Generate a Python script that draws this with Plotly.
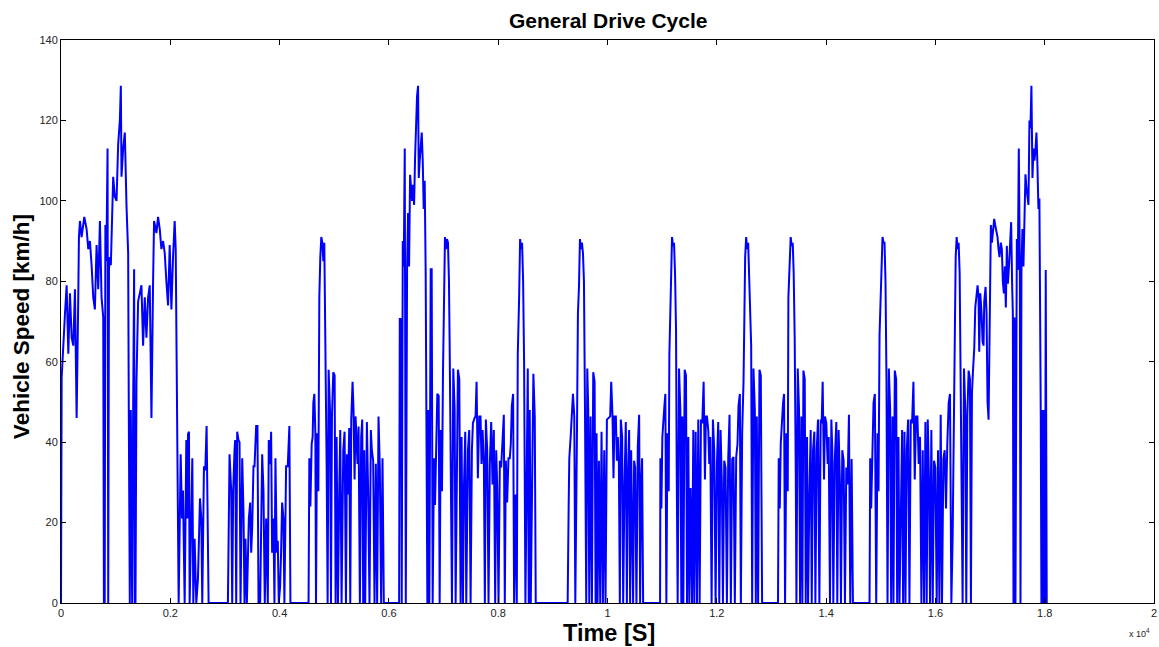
import plotly.graph_objects as go

# (time [s], speed [km/h]) samples, per section
seg_a = [(0,0),(5,48),(12,56),(73,72),(103,79),(134,62),(164,77),(195,66),(225,64),(255,78),(286,46),
         (316,76),(328,91),(347,95),(377,91),(426,96),(468,93),(499,88),(529,90),(560,84),(590,76),
         (620,73),(651,89),(681,78),(712,95),(742,76),(773,71),(785,0),(800,0),(812,94),(830,85),
         (852,113),(864,0),(878,83),(893,86),(912,84),(937,98),(955,106),(985,101),(1016,100),
         (1046,114),(1077,120),(1095,128.6),(1107,106),(1137,113),(1168,117),(1198,99),(1229,87),
         (1241,46),(1259,0),(1277,48),(1302,0),(1320,48),(1338,83),(1350,0),(1363,0),(1381,55),
         (1411,75),(1442,77),(1472,79),(1502,64),(1533,76),(1563,66),(1594,76),(1624,79),(1655,46),
         (1685,80),(1703,95),(1746,92),(1776,96),(1807,93),(1837,88),(1868,90),(1898,87),(1928,80),
         (1959,74),(1989,89),(2020,73),(2050,86),(2080,95),(2099,88),(2111,68),(2153,0)]

seg_b = [(2190,37),(2214,21),(2232,28),(2263,0),(2293,40.5),(2312,21),(2324,42),(2342,42.6),(2354,0),
         (2372,12.5),(2403,36),(2421,0),(2445,16),(2476,0),(2506,6),(2543,26),(2567,21),(2585,0),
         (2616,34),(2640,33),(2664,44),(2701,0),(3023,0),(3054,0),(3084,37),(3114,28),(3133,0),
         (3151,28),(3175,38),(3187,40.5),(3206,0),(3224,42.6),(3248,40.5),(3267,40),(3285,0),
         (3316,36),(3340,22),(3358,0),(3376,16),(3401,0),(3437,21),(3462,25),(3480,12.5),(3498,18.5),
         (3522,34),(3541,34),(3571,44),(3595,44),(3614,0),(3644,0),(3681,37),(3705,28),(3729,0),
         (3754,21),(3784,0),(3802,40.5),(3827,34.5),(3845,42.6),(3863,12.5),(3887,21),(3906,0),
         (3924,36),(3948,12.5),(3967,15.5),(3985,0),(4009,4),(4027,12.5),(4046,25),(4070,21),
         (4088,0),(4119,34),(4149,34),(4179,44),(4198,0),(4530,0)]

seg_c = [(4544,36),(4563,24),(4587,39.6),(4605,41.3),(4617,49.8),(4636,52),(4654,42.2),(4666,0),
         (4684,42.2),(4709,27.8),(4727,76),(4745,86),(4763,91),(4782,89.6),(4800,85),(4818,89.6),
         (4836,69),(4861,33.7),(4879,0),(4897,58),(4922,48),(4940,0),(4958,46.4),(4982,57.4),
         (5007,56.6),(5025,0),(5043,41.3),(5068,0),(5092,28.6),(5110,43),(5134,0),(5165,38),
         (5189,42.6),(5214,0),(5232,37),(5250,27),(5274,43.5),(5293,0),(5311,45.6),(5335,55),
         (5353,48),(5372,30.7),(5390,46.4),(5408,40.5),(5426,34.6),(5445,43.9),(5469,0),(5493,41.3),
         (5512,45.6),(5530,0),(5548,38),(5566,0),(5597,45),(5621,27),(5645,0),(5670,43),(5688,38),
         (5712,35.4),(5737,0),(5761,34.6),(5785,0),(5810,46.4),(5834,33.7),(5858,0),(5883,36),
         (5907,0),(6187,0)]

seg_d = [(6199,70.6),(6223,70.6),(6235,0),(6254,90),(6272,83.7),(6290,113),(6309,0),(6333,83.7),
         (6351,97),(6369,83.7),(6388,106.5),(6406,103),(6424,100),(6442,104),(6461,99),(6479,110.8),
         (6497,120),(6515,126),(6534,128.6),(6546,105.7),(6564,110),(6582,113),(6601,117),(6619,110),
         (6637,98),(6655,105),(6673,82),(6686,46),(6704,0),(6722,48),(6740,0),(6765,83),(6783,83),
         (6801,0),(6825,36),(6844,24.4),(6862,40),(6886,52),(6911,51.5),(6929,0),(6947,43),(6971,27.8),
         (6990,57.4),(7008,76),(7026,91),(7044,88),(7063,90.5),(7081,89.6),(7099,80),(7111,65),
         (7130,29.5),(7154,0),(7178,58.3),(7203,48),(7221,0),(7239,29.5),(7263,58),(7288,55.7),
         (7312,0),(7330,41.3),(7355,0),(7373,28.6),(7397,42.6),(7416,0),(7446,38),(7470,43),(7495,0),
         (7519,38),(7537,44.7),(7568,46),(7586,46.4),(7604,55),(7628,31),(7653,46.4),(7677,46.4),
         (7695,34.6),(7714,43),(7738,34.6),(7756,0),(7774,45.6),(7799,38),(7823,0),(7847,34.6),
         (7872,45),(7896,29.5),(7920,43),(7945,0),(7963,38),(7981,29.5),(8006,0),(8030,35.4),
         (8054,33.7),(8079,40),(8103,46.8),(8121,0),(8139,35.4),(8164,25),(8188,36),(8212,36),
         (8231,39.6),(8249,49),(8273,52),(8291,0),(8316,27),(8340,0),(8358,61.7),(8383,76),(8401,90.5),
         (8419,88),(8437,89.6),(8456,80),(8474,60),(8498,0),(8523,46.4),(8541,58.3),(8559,0),(8577,48),
         (8596,0),(8620,29.5),(8644,57),(8669,46.4),(8687,0),(8711,0),(9271,0)]

seg_e = [(9289,23.5),(9301,36),(9326,41.3),(9350,49.8),(9368,52),(9392,46.4),(9411,0),(9441,42.2),
         (9459,72),(9478,78.6),(9496,90.5),(9514,88),(9532,89.6),(9551,87),(9569,80),(9587,50),
         (9611,0),(9630,58.3),(9648,48),(9666,0),(9690,46.4),(9715,0),(9739,57.4),(9764,55),(9782,0),
         (9800,42.2),(9818,0),(9843,35.4),(9867,0),(9891,42.6),(9916,0),(9940,38),(9964,0),(9989,45.6),
         (10019,46),(10049,46.4),(10068,55),(10092,46.4),(10110,31),(10128,46.4),(10153,46.4),
         (10171,35.4),(10189,41.3),(10208,34.6),(10226,0),(10244,45.6),(10268,41.3),(10287,0),
         (10311,29.5),(10335,45),(10354,0),(10372,31),(10396,43),(10414,0),(10433,38),(10451,19),
         (10469,0),(10487,35.4),(10506,33.7),(10530,0),(10554,38.8),(10579,46.8),(10597,0),(10615,29.5),
         (10633,36),(10652,0),(10962,0),(10968,36),(10986,23.5),(11004,41.3),(11023,46.4),(11041,49),
         (11059,52),(11077,0),(11096,42.2),(11120,27.8),(11132,61.7),(11150,76),(11169,86),(11181,91),
         (11199,88.8),(11217,89.6),(11236,82),(11254,68),(11266,33.7),(11284,0),(11309,58.3),(11333,48),
         (11351,0),(11369,46.4),(11388,0),(11412,58),(11436,56.6),(11455,0),(11479,41.3),(11497,0),
         (11521,28.6),(11546,0),(11570,43),(11588,0),(11613,42.6),(11637,0),(11661,45.6),(11686,0),
         (11710,45.6),(11734,44.7),(11759,55),(11783,30.7),(11801,46.4),(11820,46.4),(11844,43),
         (11862,34.6),(11880,41.3),(11905,0),(11929,45.6),(11953,38),(11978,0),(12002,34.6),(12026,45),
         (12045,0),(12069,43),(12093,29.5),(12112,0),(12136,35.4),(12160,33.7),(12185,0),(12209,35.8),
         (12233,46.8),(12257,0),(12282,35.8),(12306,36.3),(12330,0),(12355,36.3),(12379,39.6),
         (12397,49),(12422,52),(12440,0),(12464,42.2),(12489,55),(12501,76),(12519,86),(12537,91),
         (12556,88),(12574,89.6),(12592,82),(12610,70),(12629,64),(12647,0),(12671,58.3),(12696,48),
         (12714,0),(12732,46.4),(12756,0),(12781,58),(12805,56.6),(12829,0),(13120,0)]

seg_f = [(13133,36),(13152,23.5),(13170,39.6),(13194,46.4),(13212,49.8),(13231,52),(13249,0),
         (13273,42.2),(13298,27.8),(13310,76),(13334,86),(13352,91),(13371,88.8),(13389,89.6),
         (13407,82),(13425,66),(13445,32),(13457,0),(13481,58.3),(13505,48),(13524,0),(13548,46.4),
         (13566,0),(13585,57.8),(13609,55.7),(13627,0),(13651,41.3),(13670,0),(13694,26.9),(13718,43),
         (13737,0),(13761,38),(13785,42.6),(13804,0),(13828,38),(13852,45.6),(13877,0),(13901,45.6),
         (13919,44.7),(13937,55),(13962,30.7),(13980,46.4),(14004,44.7),(14029,34.6),(14047,41.3),
         (14071,0),(14096,45.6),(14114,38),(14132,0),(14156,34.6),(14187,45),(14205,0),(14229,43),
         (14254,29.5),(14272,0),(14296,38),(14321,35.4),(14345,0),(14369,33.7),(14394,29.5),(14418,46.8),
         (14442,0),(14467,35.8),(14491,0),(14795,0),(14807,36),(14825,23.5),(14844,39.6),(14868,49.8),
         (14892,52),(14917,0),(14941,42.2),(14959,27.8),(14978,66.7),(14996,76),(15014,88),(15032,91),
         (15051,89.6),(15069,89.6),(15087,80),(15105,55),(15124,0),(15148,58.3),(15172,48),(15190,0),
         (15215,46.4),(15233,0),(15257,57.8),(15282,55.7),(15300,0),(15324,41.3),(15343,0),(15367,28.6),
         (15391,43),(15409,0),(15434,42.6),(15452,0),(15476,38),(15501,45.6),(15525,0),(15549,45.6),
         (15573,44.7),(15598,55),(15622,30.7),(15646,46.4),(15671,46.4),(15695,34.6),(15719,41.3),
         (15744,0),(15768,38),(15793,0),(15817,45),(15841,0),(15860,45.6),(15884,29.5),(15902,0),
         (15926,43),(15951,0),(15975,35.4),(15999,33.7),(16024,0),(16048,38),(16073,0),(16097,46.8),
         (16121,0),(16146,35.8),(16170,38),(16194,23.5),(16218,39.6),(16243,49.8),(16267,52),(16292,0),
         (16316,16.8),(16334,42.2),(16352,76),(16371,86),(16389,91),(16407,88),(16425,89.6),(16444,82),
         (16462,55),(16480,33.7),(16498,0),(16523,58.3),(16547,48),(16565,0),(16584,46.4),(16608,57.8),
         (16632,55.7),(16650,0),(16669,52.3),(16687,57.4),(16711,63.4),(16730,73.5),(16748,76),
         (16766,78.6),(16772,79)]

seg_g = [(16790,76),(16802,62.5),(16821,77),(16845,72),(16863,65),(16881,64),(16894,75),(16918,78.6),
         (16936,72),(16954,50),(16973,45.6),(16991,72),(17003,80),(17015,94),(17034,89.6),(17052,92),
         (17076,95.5),(17094,94),(17113,93),(17137,91),(17155,88),(17173,86),(17198,89.6),(17216,88),
         (17234,80),(17253,77),(17271,83.7),(17289,73.5),(17307,88.8),(17326,79.4),(17350,84.5),
         (17368,91.3),(17386,94.7),(17405,78.6),(17417,72),(17429,0),(17447,71),(17465,0),(17490,90.5),
         (17508,82.8),(17526,113),(17545,83.7),(17557,0),(17575,83.7),(17593,93),(17611,83.7),
         (17630,102.3),(17648,106.6),(17666,103.2),(17684,100.6),(17703,99),(17721,120),(17739,118),
         (17757,128.6),(17776,105.7),(17794,113),(17812,110),(17830,112.5),(17849,117),(17867,109),
         (17885,98),(17903,100.6),(17916,77),(17928,46.4),(17940,0),(17958,48),(17976,0),(17995,48),
         (18007,0),(18019,82.8),(18037,0),(18045,0)]

x_tick_vals = [0, 2000, 4000, 6000, 8000, 10000, 12000, 14000, 16000, 18000, 20000]
x_tick_text = ["0", "0.2", "0.4", "0.6", "0.8", "1", "1.2", "1.4", "1.6", "1.8", "2"]
y_tick_vals = [0, 20, 40, 60, 80, 100, 120, 140]

samples = seg_a + seg_b + seg_c + seg_d + seg_e + seg_f + seg_g
time_s = [p[0] for p in samples]
speed = [p[1] for p in samples]

fig = go.Figure()
fig.add_trace(go.Scatter(x=time_s, y=speed, mode="lines",
                         line=dict(color="#0000FF", width=2), showlegend=False,
                         hoverinfo="skip"))

FONT = "Liberation Sans, Arial, sans-serif"
axis_common = dict(showline=True, linecolor="black", linewidth=1, mirror="ticks",
                   ticks="inside", ticklen=5, tickcolor="black", showgrid=False,
                   zeroline=False, ticklabeloverflow="allow",
                   tickfont=dict(family=FONT, size=11, color="#222222"))

fig.update_layout(
    width=1159, height=647,
    margin=dict(l=61, r=2, t=40, b=44),
    paper_bgcolor="white", plot_bgcolor="white",
    xaxis=dict(range=[0, 20000], tickvals=x_tick_vals, ticktext=x_tick_text, **axis_common),
    yaxis=dict(range=[0, 140], tickvals=y_tick_vals, **axis_common),
    annotations=[
        dict(text="<b>General Drive Cycle</b>", x=0.5, y=1, xref="paper", yref="paper",
             xanchor="center", yanchor="middle", yshift=20, showarrow=False,
             font=dict(family=FONT, size=21, color="black")),
        dict(text="<b>Time [S]</b>", x=0.501, y=0, xref="paper", yref="paper",
             xanchor="center", yanchor="middle", yshift=-30, showarrow=False,
             font=dict(family=FONT, size=23.5, color="black")),
        dict(text="<b>Vehicle Speed [km/h]</b>", x=0, y=0.49, xref="paper", yref="paper",
             xanchor="center", yanchor="middle", xshift=-40, textangle=-90, showarrow=False,
             font=dict(family=FONT, size=22.5, color="black")),
        dict(text="x 10<sup>4</sup>", x=1, y=0, xref="paper", yref="paper",
             xanchor="right", yanchor="middle", xshift=-2, yshift=-30, showarrow=False,
             font=dict(family=FONT, size=9, color="#222222")),
    ],
)

fig.write_html("out.html", config={"displayModeBar": False},
               post_script="document.body.style.margin='0';document.body.style.overflow='hidden';")
